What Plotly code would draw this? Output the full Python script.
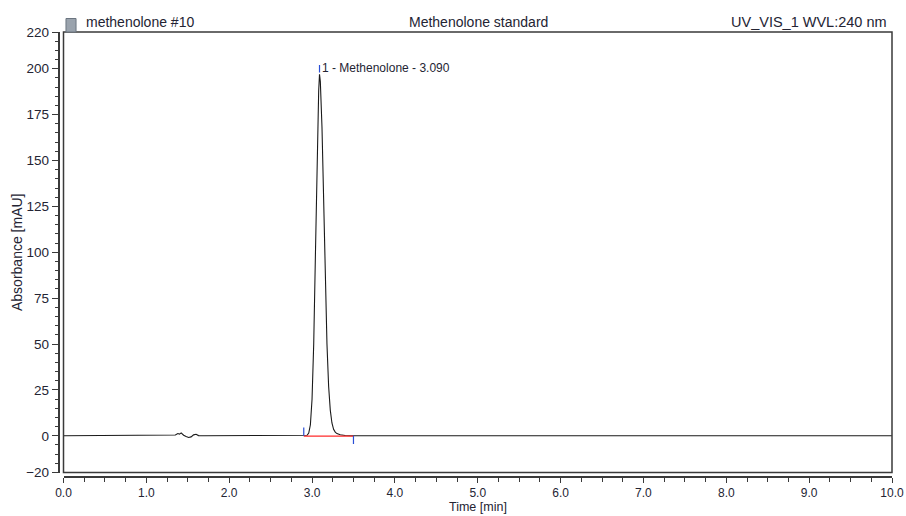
import plotly.graph_objects as go

# Chromatogram trace (time in min, absorbance in mAU)
time_min = [0.00, 0.60, 0.62, 0.64, 0.66, 1.30, 1.35, 1.38, 1.40, 1.42, 1.45, 1.48, 1.51, 1.54,
            1.57, 1.60, 1.63, 1.70, 1.83, 1.85, 1.87, 2.80, 2.90, 2.94, 2.96, 2.98, 3.00,
            3.02, 3.04, 3.06, 3.08, 3.09, 3.10, 3.12, 3.14, 3.16, 3.18, 3.20, 3.22,
            3.24, 3.26, 3.28, 3.30, 3.34, 3.40, 3.50, 4.00, 6.00, 8.00, 10.00]
absorbance = [0.0, 0.0, 0.3, 0.0, 0.0, 0.0, 0.4, 1.2, 0.9, 1.6, 0.3, -0.4, -0.9, -0.6,
              0.5, 0.8, 0.1, 0.0, 0.0, 0.3, 0.0, 0.0, 0.0, 0.3, 1.5, 6.0, 20.0,
              50.0, 97.0, 150.0, 188.0, 197.0, 193.0, 168.0, 126.0, 84.0, 50.0, 27.0, 14.0,
              7.0, 3.5, 2.0, 1.2, 0.6, 0.2, 0.0, 0.0, 0.0, 0.0, 0.0]

peak_time = 3.09
peak_height = 197.0
peak_label = "1 - Methenolone - 3.090"
integration_start = 2.90
integration_end = 3.50

y_tickvals = [-20, 0, 25, 50, 75, 100, 125, 150, 175, 200, 220]

sample_name = "methenolone #10"
chart_title = "Methenolone standard"
channel = "UV_VIS_1 WVL:240 nm"
x_title = "Time [min]"
y_title = "Absorbance [mAU]"

TXT = "#242433"
FONT = "Liberation Sans, Arial, sans-serif"

fig = go.Figure()
fig.add_trace(go.Scatter(x=time_min, y=absorbance, mode="lines",
                         line=dict(color="#1a1a1a", width=1.1), hoverinfo="skip",
                         showlegend=False))
# integration baseline (red)
fig.add_trace(go.Scatter(x=[integration_start, integration_end], y=[-0.2, -0.2], mode="lines",
                         line=dict(color="#ff2a2a", width=1.4), showlegend=False))
# peak start / end delimiters (blue)
fig.add_trace(go.Scatter(x=[integration_start, integration_start], y=[0, 4.5], mode="lines",
                         line=dict(color="#2a4fd6", width=1.2), showlegend=False))
fig.add_trace(go.Scatter(x=[integration_end, integration_end], y=[0, -4.5], mode="lines",
                         line=dict(color="#2a4fd6", width=1.2), showlegend=False))
fig.add_trace(go.Scatter(x=[peak_time, peak_time], y=[peak_height + 1, peak_height + 5], mode="lines",
                         line=dict(color="#2a4fd6", width=1.2), showlegend=False))

fig.add_annotation(x=peak_time, y=peak_height + 3.5, xref="x", yref="y", text=peak_label,
                   showarrow=False, xanchor="left", yanchor="middle", xshift=0,
                   font=dict(size=12, color=TXT, family=FONT))

# frame around the data area
fig.add_shape(type="rect", xref="x domain", yref="y domain", x0=0, x1=1, y0=0, y1=1,
              line=dict(color="#3a3a3a", width=1.5))

# header texts
fig.add_annotation(x=0.0358, y=1, xref="paper", yref="paper", text=sample_name, showarrow=False,
                   xanchor="left", yanchor="bottom", yshift=0, font=dict(size=14, color=TXT, family=FONT))
fig.add_annotation(x=0.506, y=1, xref="paper", yref="paper", text=chart_title, showarrow=False,
                   xanchor="center", yanchor="bottom", yshift=0, font=dict(size=14, color=TXT, family=FONT))
fig.add_annotation(x=0.9964, y=1, xref="paper", yref="paper", text=channel, showarrow=False,
                   xanchor="right", yanchor="bottom", yshift=0, font=dict(size=14.5, color=TXT, family=FONT))
# small icon near sample name
fig.add_shape(type="rect", xref="paper", yref="paper", x0=0.0143, x1=0.0263, y0=1.0, y1=1.03,
              line=dict(color="#6b7580", width=1), fillcolor="#9aa3ad")

# axis titles
fig.add_annotation(x=0.5, y=-0.0744, xref="x domain", yref="paper", text=x_title, showarrow=False,
                   xanchor="center", yanchor="bottom", borderpad=0,
                   font=dict(size=12.5, color=TXT, family=FONT))
fig.add_annotation(x=-0.0442, y=0.511, xref="paper", yref="paper", text=y_title, showarrow=False,
                   textangle=-90, xanchor="center", yanchor="middle", font=dict(size=14, color=TXT, family=FONT))

fig.update_layout(
    width=906, height=516,
    margin=dict(l=54, r=14, t=32, b=34, autoexpand=False),
    paper_bgcolor="white", plot_bgcolor="white",
    font=dict(family=FONT, size=13, color=TXT),
    xaxis=dict(domain=[0.01134, 1], range=[0, 10], anchor="free", position=0.0111, automargin=False,
               showline=True, linecolor="#3a3a3a", linewidth=1.5,
               ticks="outside", ticklen=5, tickwidth=1, tickcolor="#3a3a3a",
               tick0=0, dtick=1, tickformat=".1f", showgrid=False, zeroline=False,
               minor=dict(dtick=0.25, tick0=0, ticks="outside", ticklen=4, tickcolor="#3a3a3a", showgrid=False),
               tickfont=dict(size=12, color=TXT, family=FONT)),
    yaxis=dict(domain=[0.0211, 1], range=[-20, 220], anchor="free", position=0.00656, automargin=False,
               showline=True, linecolor="#3a3a3a", linewidth=1.5,
               ticks="outside", ticklen=7, tickwidth=1, tickcolor="#3a3a3a",
               tickmode="array", tickvals=y_tickvals, showgrid=False, zeroline=False,
               minor=dict(dtick=5, tick0=0, ticks="outside", ticklen=4, tickcolor="#3a3a3a", showgrid=False),
               tickfont=dict(size=13.5, color=TXT, family=FONT)),
)

fig.write_html("out.html", config={"displayModeBar": False},
               post_script="document.body.style.margin='0px';")
